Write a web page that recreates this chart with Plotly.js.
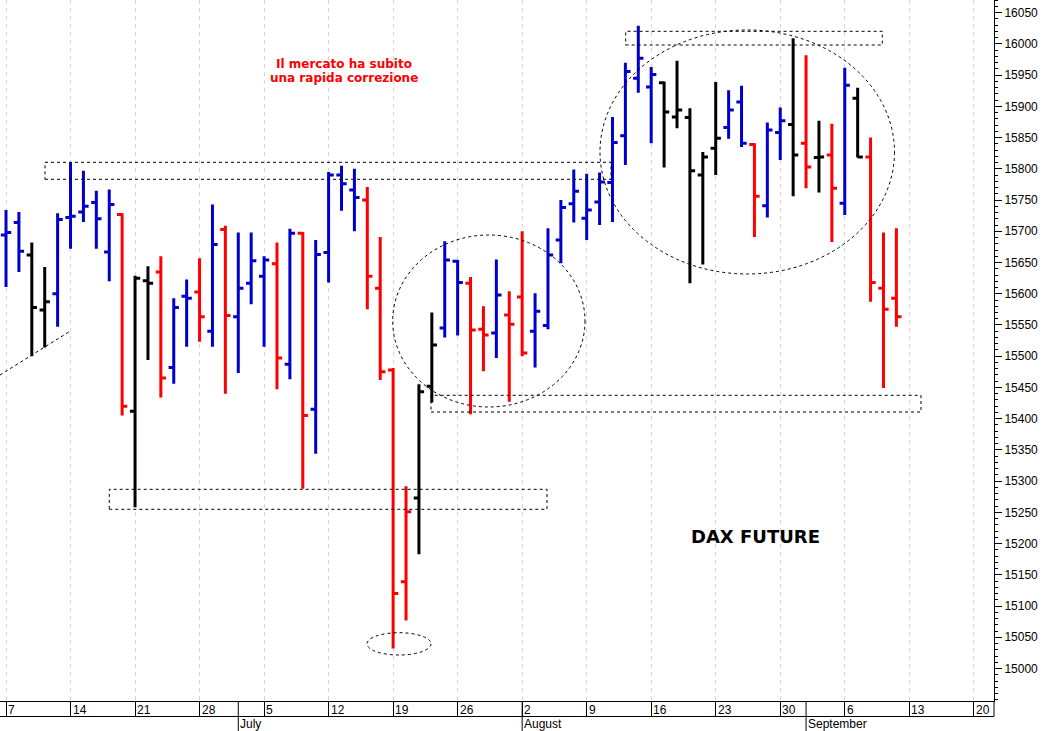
<!DOCTYPE html>
<html>
<head>
<meta charset="utf-8">
<script src="https://cdn.plot.ly/plotly-3.0.1.min.js"></script>
<style>html,body{margin:0;padding:0;background:#fff;}#chart{width:1042px;height:731px;}</style>
</head>
<body>
<div id="chart"></div>
<script>
// ---- data (DAX future daily bars, June–September 2021) ----
const dates = [
 '2021-06-07','2021-06-08','2021-06-09','2021-06-10','2021-06-11',
 '2021-06-14','2021-06-15','2021-06-16','2021-06-17','2021-06-18',
 '2021-06-21','2021-06-22','2021-06-23','2021-06-24','2021-06-25',
 '2021-06-28','2021-06-29','2021-06-30','2021-07-01','2021-07-02',
 '2021-07-05','2021-07-06','2021-07-07','2021-07-08','2021-07-09',
 '2021-07-12','2021-07-13','2021-07-14','2021-07-15','2021-07-16',
 '2021-07-19','2021-07-20','2021-07-21','2021-07-22','2021-07-23',
 '2021-07-26','2021-07-27','2021-07-28','2021-07-29','2021-07-30',
 '2021-08-02','2021-08-03','2021-08-04','2021-08-05','2021-08-06',
 '2021-08-09','2021-08-10','2021-08-11','2021-08-12','2021-08-13',
 '2021-08-16','2021-08-17','2021-08-18','2021-08-19','2021-08-20',
 '2021-08-23','2021-08-24','2021-08-25','2021-08-26','2021-08-27',
 '2021-08-30','2021-08-31','2021-09-01','2021-09-02','2021-09-03',
 '2021-09-06','2021-09-07','2021-09-08','2021-09-09','2021-09-10'
];
const openV = [
 15694,15714,15662,15574,15600, 15722,15731,15746,15667,15727,
 15412,15621,15635,15482,15596, 15603,15540,15703,15563,15617,
 15628,15648,15487,15697,15415, 15666,15790,15766,15750,15609,
 15478,15139,15273,15452,15545, 15652,15617,15543,15537,15566,
 15595,15540,15549,15686,15744, 15721,15747,15778,15853,15945,
 15931,15938,15883,15882,15790, 15833,15866,15907,15839,15741,
 15858,15871,15841,15818,15822, 15745,15913,15819,15609,15593
];
const highV = [
 15734,15731,15682,15643,15729, 15810,15797,15765,15767,15729,
 15629,15644,15660,15593,15623, 15657,15743,15709,15698,15698,
 15660,15682,15704,15699,15686, 15795,15805,15800,15771,15691,
 15481,15292,15455,15570,15684, 15654,15627,15580,15655,15604,
 15700,15601,15705,15750,15799, 15792,15794,15883,15970,16029,
 15963,15940,15973,15897,15827, 15939,15926,15933,15841,15874,
 15898,16009,15982,15877,15872, 15962,15930,15850,15698,15705
];
const lowV = [
 15611,15635,15500,15514,15547, 15672,15715,15672,15620,15405,
 15258,15494,15434,15456,15515, 15523,15515,15440,15473,15583,
 15515,15447,15463,15288,15344, 15618,15733,15700,15575,15462,
 15032,15077,15183,15426,15530, 15533,15407,15476,15497,15427,
 15500,15482,15543,15649,15714, 15686,15710,15715,15806,15922,
 15841,15802,15865,15617,15647, 15790,15848,15835,15691,15722,
 15814,15756,15769,15762,15683, 15726,15818,15587,15449,15547
];
const closeV = [
 15698,15668,15578,15587,15719, 15724,15740,15720,15743,15420,
 15625,15617,15465,15578,15593, 15563,15679,15565,15609,15653,
 15654,15497,15697,15405,15663, 15790,15776,15754,15628,15475,
 15120,15251,15443,15518,15654, 15618,15542,15534,15598,15551,
 15505,15572,15662,15738,15764, 15734,15779,15842,15956,15977,
 15951,15891,15894,15797,15819, 15849,15894,15841,15756,15862,
 15877,15822,15803,15819,15769, 15934,15819,15618,15575,15563
];
// bar signal: B = blue, R = red, K = black
const signal = [
 'B','B','K','K','B', 'B','B','B','B','R',
 'K','K','R','B','B', 'R','B','R','B','B',
 'B','R','B','R','B', 'B','B','B','R','R',
 'R','R','K','K','B', 'B','R','R','B','R',
 'R','B','B','B','B', 'B','B','B','B','B',
 'B','K','K','K','K', 'K','B','B','R','B',
 'B','K','R','K','R', 'B','K','R','R','R'
];
const weekTicks = ['2021-06-07','2021-06-14','2021-06-21','2021-06-28','2021-07-05','2021-07-12','2021-07-19','2021-07-26',
 '2021-08-02','2021-08-09','2021-08-16','2021-08-23','2021-08-30','2021-09-06','2021-09-13','2021-09-20'];
const weekLabels = ['7','14','21','28','5','12','19','26','2','9','16','23','30','6','13','20'];
const monthStarts = ['2021-07-01','2021-08-02','2021-09-01'];
const monthLabels = ['July','August','September'];
const priceTicks = [15000,15050,15100,15150,15200,15250,15300,15350,15400,15450,15500,15550,15600,15650,15700,15750,15800,15850,15900,15950,16000,16050];

// ---- drawing ----
const noon = d => d + ' 12:00';
const colors = {B:'#0000cc', R:'#ff0000', K:'#000000'};
const traces = ['B','R','K'].map(code => {
  const idx = signal.map((s,i)=>s===code?i:-1).filter(i=>i>=0);
  const c = colors[code];
  return {
    type:'ohlc',
    x: idx.map(i=>noon(dates[i])),
    open: idx.map(i=>openV[i]), high: idx.map(i=>highV[i]),
    low: idx.map(i=>lowV[i]), close: idx.map(i=>closeV[i]),
    increasing:{line:{color:c, width:3}},
    decreasing:{line:{color:c, width:3}},
    tickwidth:0.4, hoverinfo:'skip', showlegend:false
  };
});

const PW = 994, PH = 701;
const X = px => px/PW, Y = py => (PH-py)/PH;
const dashed = {color:'#000', width:1, dash:'3px,3px'};
const shapes = [
  {type:'rect', xref:'paper', yref:'paper', x0:X(45), x1:X(611), y0:Y(179.3), y1:Y(162.3), line:dashed},
  {type:'rect', xref:'paper', yref:'paper', x0:X(625.7), x1:X(882.3), y0:Y(45), y1:Y(31.3), line:dashed},
  {type:'rect', xref:'paper', yref:'paper', x0:X(109.3), x1:X(547), y0:Y(509.3), y1:Y(489.3), line:dashed},
  {type:'rect', xref:'paper', yref:'paper', x0:X(431), x1:X(921), y0:Y(412), y1:Y(395.3), line:dashed},
  {type:'circle', xref:'paper', yref:'paper', x0:X(392.7), x1:X(585), y0:Y(407), y1:Y(235), line:dashed},
  {type:'circle', xref:'paper', yref:'paper', x0:X(600), x1:X(894.5), y0:Y(274), y1:Y(30), line:dashed},
  {type:'circle', xref:'paper', yref:'paper', x0:X(367), x1:X(431), y0:Y(655), y1:Y(632.7), line:dashed},
  {type:'line', xref:'paper', yref:'paper', x0:X(0), x1:X(69.5), y0:Y(375), y1:Y(331.5), line:dashed},
  // axis band
  {type:'line', xref:'paper', yref:'paper', x0:0, x1:1, y0:Y(716.5), y1:Y(716.5), line:{color:'#000', width:1}},
  {type:'line', xref:'paper', yref:'paper', x0:1, x1:1, y0:Y(701), y1:Y(716.5), line:{color:'#000', width:1}}
];
monthStarts.forEach(d => shapes.push({type:'line', xref:'x', yref:'paper', x0:noon(d), x1:noon(d), y0:Y(701), y1:Y(731), line:{color:'#000', width:1}}));

const axFont = {family:'Liberation Sans, Arial, sans-serif', size:12, color:'#000'};
const annotations = [];
weekTicks.forEach((d,i) => annotations.push({xref:'x', yref:'paper', x:noon(d), y:Y(710), xanchor:'left', yanchor:'middle', xshift:0, text:weekLabels[i], showarrow:false, font:axFont}));
monthStarts.forEach((d,i) => annotations.push({xref:'x', yref:'paper', x:noon(d), y:Y(723.5), xanchor:'left', yanchor:'middle', xshift:0, text:monthLabels[i], showarrow:false, font:axFont}));
const redFont = {family:'DejaVu Sans, Verdana, sans-serif', size:12, color:'#ff0000'};
annotations.push({xref:'paper', yref:'paper', x:X(344), y:Y(64), xanchor:'center', yanchor:'middle', text:'<b>Il mercato ha subito</b>', showarrow:false, font:redFont});
annotations.push({xref:'paper', yref:'paper', x:X(344), y:Y(78.3), xanchor:'center', yanchor:'middle', text:'<b>una rapida correzione</b>', showarrow:false, font:redFont});
annotations.push({xref:'paper', yref:'paper', x:X(755.5), y:Y(536), xanchor:'center', yanchor:'middle', text:'<b>DAX FUTURE</b>', showarrow:false, font:{family:'DejaVu Sans, Verdana, sans-serif', size:18, color:'#000'}});

const layout = {
  width:1042, height:731,
  margin:{l:0, r:48, t:0, b:30, pad:0},
  paper_bgcolor:'#fff', plot_bgcolor:'#fff',
  showlegend:false, hovermode:false, dragmode:false,
  xaxis:{
    type:'date', range:['2021-06-07 00:50','2021-09-22 01:34'],
    rangebreaks:[{bounds:['sat','mon']}],
    rangeslider:{visible:false},
    tickmode:'array', tickvals:weekTicks.map(noon), showticklabels:false,
    ticks:'outside', ticklen:15, tickcolor:'#000', tickwidth:1,
    showgrid:true, gridcolor:'#d6d6d6', griddash:'4px,4px', gridwidth:1,
    showline:true, linecolor:'#000', linewidth:1, zeroline:false, automargin:false, fixedrange:true
  },
  yaxis:{
    side:'right', range:[14948, 16070.3],
    tickmode:'array', tickvals:priceTicks, ticktext:priceTicks.map(String),
    ticks:'outside', ticklen:7, tickcolor:'#000', tickwidth:1,
    minor:{tickmode:'linear', tick0:15000, dtick:10, ticks:'outside', ticklen:3, tickcolor:'#000', showgrid:false},
    tickfont:axFont, showgrid:false, zeroline:false,
    showline:true, linecolor:'#000', linewidth:1, automargin:false, fixedrange:true
  },
  shapes:shapes, annotations:annotations
};
Plotly.newPlot('chart', traces, layout, {displayModeBar:false, staticPlot:true});
</script>
</body>
</html>
